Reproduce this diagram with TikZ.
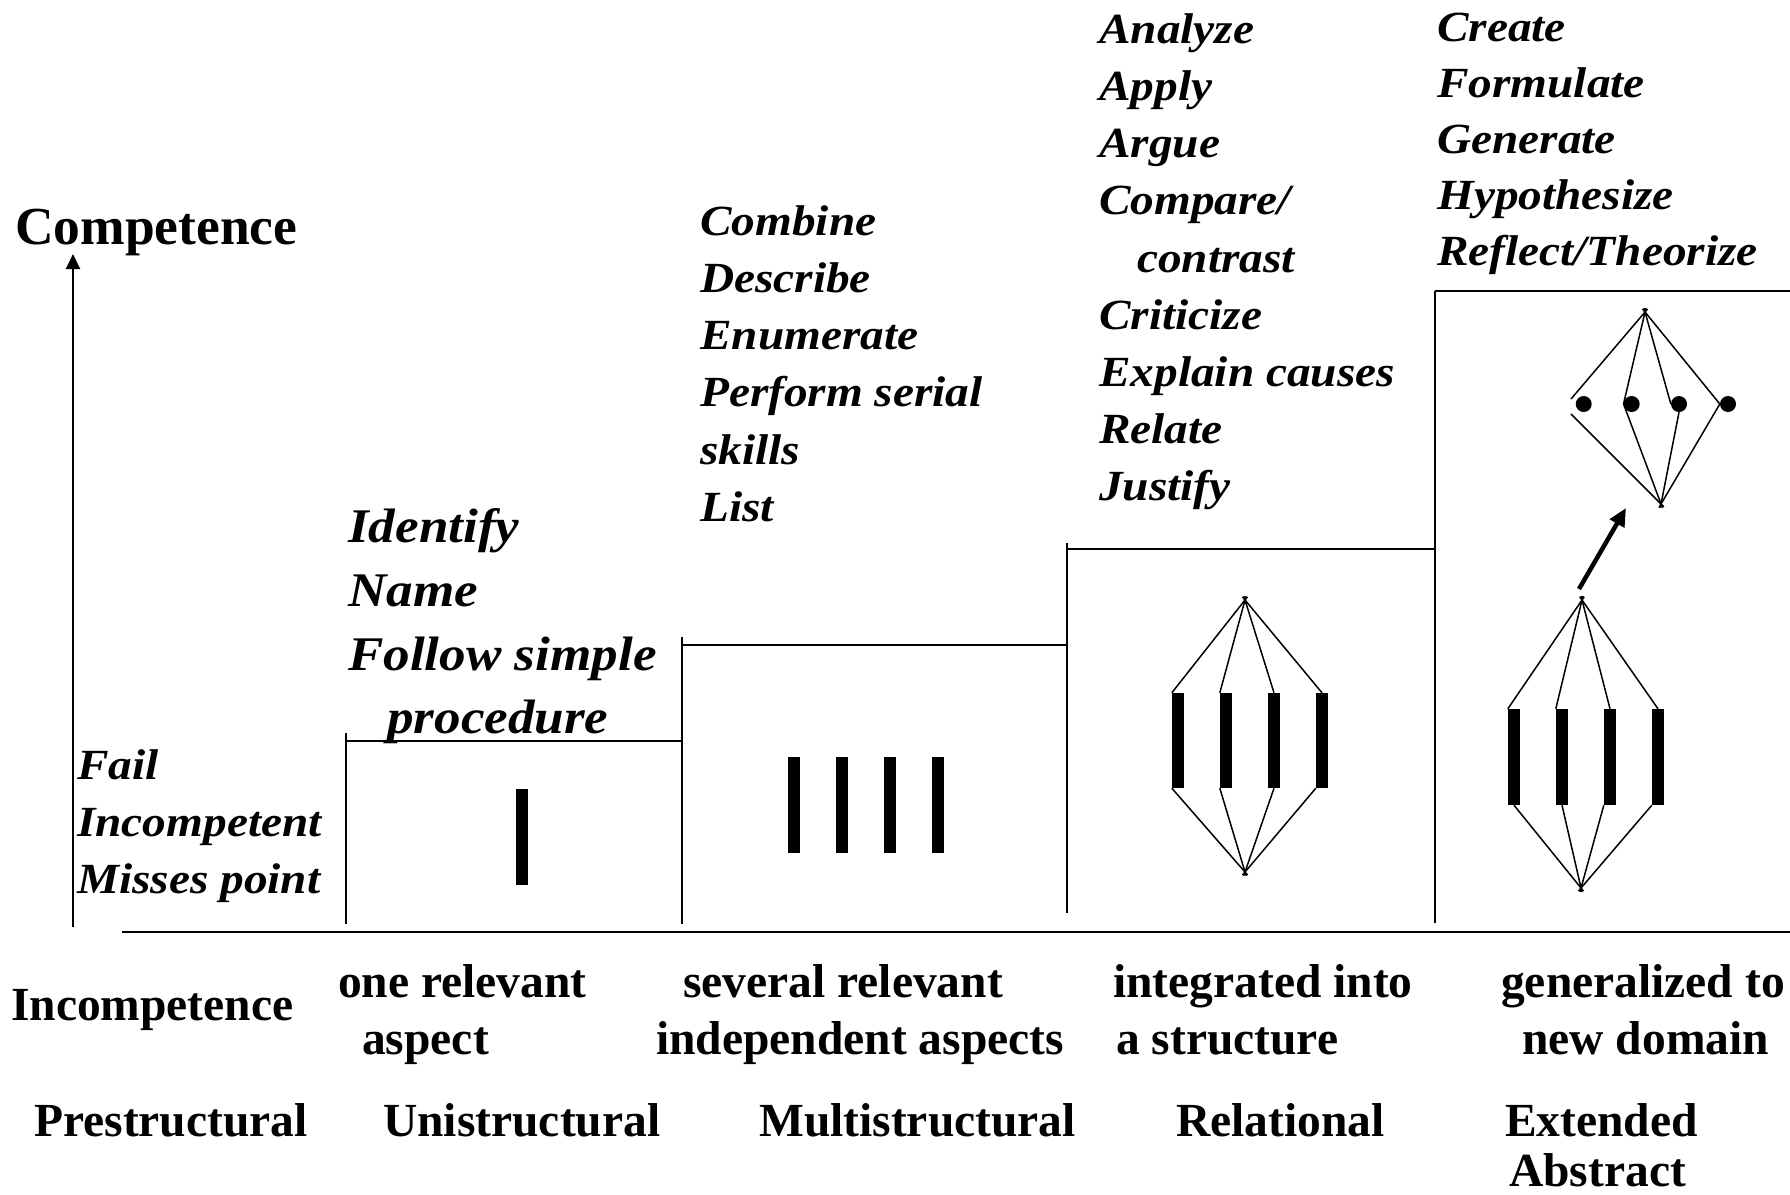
\documentclass[tikz,border=0pt]{standalone}
\usepackage{fontspec}
\setmainfont{Liberation Serif}
\newfontfamily\itf[FakeStretch=1.1]{Liberation Serif}
\usetikzlibrary{arrows.meta}
\tikzset{
  lbl/.style={inner sep=0pt, anchor=base west, font=\fontsize{47.5}{57}\selectfont\bfseries},
  itl/.style={inner sep=0pt, anchor=base west, font=\itf\fontsize{43}{57}\selectfont\bfseries\itshape},
  itbig/.style={inner sep=0pt, anchor=base west, font=\itf\fontsize{48.3}{64}\selectfont\bfseries\itshape},
  ttl/.style={inner sep=0pt, anchor=base west, font=\fontsize{53.5}{60}\selectfont\bfseries},
  stepline/.style={line width=2pt, black},
  link/.style={line width=1.5pt, black, shorten <=-4pt},
  barn/.style={fill=black, draw=none, inner sep=0pt, minimum width=12pt, minimum height=96pt},
  dotn/.style={circle, fill=black, draw=none, inner sep=0pt, minimum size=16pt},
}
\begin{document}
\begin{tikzpicture}[x=1pt,y=-1pt]
\useasboundingbox (0,0) rectangle (1790,1194);

% axes
\coordinate (ax0) at (73,927);
\coordinate (ax1) at (73,254);
\draw[line width=2pt, -{Triangle[length=15pt,width=14pt]}] (ax0) -- (ax1);
\coordinate (bl0) at (122,932);
\coordinate (bl1) at (1790,932);
\draw[line width=2.2pt] (bl0) -- (bl1);

% steps
\draw[stepline] (346,733) -- (346,924);
\draw[stepline] (346,741) -- (681.5,741);
\draw[stepline] (681.5,637) -- (681.5,924);
\draw[stepline] (681.5,645) -- (1066.7,645);
\draw[stepline] (1066.7,543) -- (1066.7,913);
\draw[stepline] (1066.7,549) -- (1434.5,549);
\draw[stepline] (1434.5,291) -- (1434.5,923);
\draw[stepline] (1434.5,291) -- (1790,291);

% unistructural bar
\node[barn] (u1) at (522,837) {};

% multistructural bars
\foreach \x [count=\i] in {794,842,890,938}
  \node[barn] (m\i) at (\x,805) {};

% relational
\coordinate (rT) at (1245,600);
\coordinate (rB) at (1245,872);
\foreach \x [count=\i] in {1178,1226,1274,1322}
  \node[barn, minimum height=95pt] (r\i) at (\x,740.5) {};
\draw[link] (rT) -- (r1.north west);
\draw[link] (rT) -- (r2.north west);
\draw[link] (rT) -- (r3.north);
\draw[link] (rT) -- (r4.north);
\draw[link] (rB) -- (r1.south west);
\draw[link] (rB) -- (r2.south west);
\draw[link] (rB) -- (r3.south);
\draw[link] (rB) -- (r4.south west);

% extended abstract lower structure
\coordinate (eT) at (1582,600);
\coordinate (eB) at (1581,888);
\foreach \x [count=\i] in {1514,1562,1610,1658}
  \node[barn] (e\i) at (\x,757) {};
\draw[link] (eT) -- (e1.north west);
\draw[link] (eT) -- (e2.north west);
\draw[link] (eT) -- (e3.north);
\draw[link] (eT) -- (e4.north);
\draw[link] (eB) -- (e1.south);
\draw[link] (eB) -- (e2.south);
\draw[link] (eB) -- (e3.south west);
\draw[link] (eB) -- (e4.south west);

% extended abstract upper structure
\coordinate (gT) at (1645,312);
\coordinate (gB) at (1661,504);
\coordinate (gL1) at (1571,399);
\coordinate (gL2) at (1571,414);
\foreach \x [count=\i] in {1583.7,1631.7,1679,1728}
  \node[dotn] (d\i) at (\x,404) {};
\draw[link] (gT) -- (gL1);
\draw[link] (gT) -- (d2.west);
\draw[link] (gT) -- (d3.west);
\draw[link] (gT) -- (d4.west);
\draw[link] (gB) -- (gL2);
\draw[link] (gB) -- (d2.west);
\draw[link] (gB) -- (d3.south);
\draw[link] (gB) -- (d4.west);

% generalisation arrow
\coordinate (ga0) at (1579,589);
\coordinate (ga1) at (1626,508);
\draw[line width=4.5pt, -{Triangle[length=18pt,width=16pt]}] (ga0) -- (ga1);

% titles
\node[ttl] (comp) at (15,244) {Competence};
\node[lbl] (incomp) at (11,1020) {Incompetence};

% prestructural verbs
\node[itl] (p1) at (77,779) {Fail};
\node[itl] (p2) at (77,836) {Incompetent};
\node[itl] (p3) at (77,893) {Misses point};

% unistructural verbs
\node[itbig] (u1t) at (348,542) {Identify};
\node[itbig] (u2t) at (348,606) {Name};
\node[itbig] (u3t) at (348,670) {Follow simple};
\node[itbig] (u4t) at (387,733) {procedure};

% multistructural verbs
\foreach \t [count=\i from 0] in {Combine,Describe,Enumerate,Perform serial,skills,List}
  \node[itl] (mt\i) at (700,235+57.3*\i) {\t};

% relational verbs
\node[itl] (rt1) at (1099,43) {Analyze};
\node[itl] (rt2) at (1099,100) {Apply};
\node[itl] (rt3) at (1099,157) {Argue};
\node[itl] (rt4) at (1099,214) {Compare/};
\node[itl] (rt5) at (1137,272) {contrast};
\node[itl] (rt6) at (1099,329) {Criticize};
\node[itl] (rt7) at (1099,386) {Explain causes};
\node[itl] (rt8) at (1099,443) {Relate};
\node[itl] (rt9) at (1099,500) {Justify};

% extended abstract verbs
\foreach \t [count=\i from 0] in {Create,Formulate,Generate,Hypothesize,Reflect/Theorize}
  \node[itl] (xt\i) at (1437,41+56*\i) {\t};

% descriptions
\node[lbl] (d1a) at (338,997) {one relevant};
\node[lbl] (d1b) at (362,1054) {aspect};
\node[lbl] (d2a) at (683,997) {several relevant};
\node[lbl] (d2b) at (656,1054) {independent aspects};
\node[lbl] (d3a) at (1113,997) {integrated into};
\node[lbl] (d3b) at (1116,1054) {a structure};
\node[lbl] (d4a) at (1501,997) {generalized to};
\node[lbl] (d4b) at (1522,1054) {new domain};

% level names
\node[lbl] (l0) at (34,1136) {Prestructural};
\node[lbl] (l1) at (383,1136) {Unistructural};
\node[lbl] (l2) at (759,1136) {Multistructural};
\node[lbl] (l3) at (1176,1136) {Relational};
\node[lbl] (l4a) at (1505,1136) {Extended};
\node[lbl] (l4b) at (1509,1186) {Abstract};
\end{tikzpicture}
\end{document}
